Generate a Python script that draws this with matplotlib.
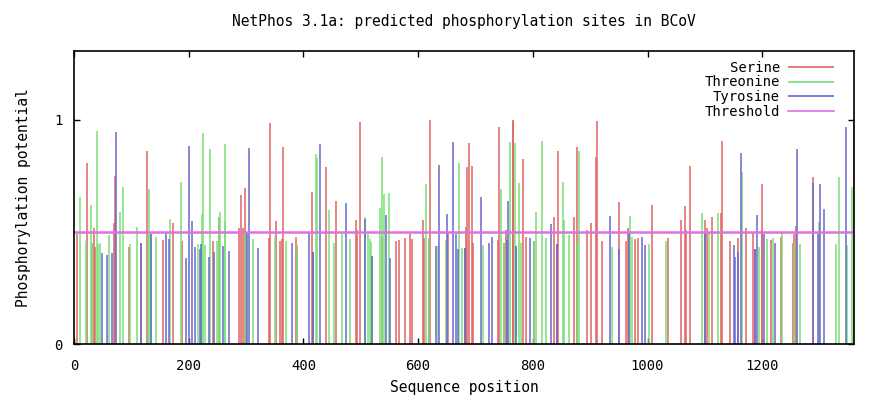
import matplotlib
matplotlib.use("Agg")
from matplotlib import pyplot as plt

# NetPhos impulses (sequence position, score)
ser_pos = [5.5, 23, 31, 35, 36.5, 70, 71.8, 95.6, 117, 127, 129, 156, 172, 189, 242.7, 252.6,
           287, 291, 295, 298.6, 300, 339.8, 341.6, 351.5, 359, 362, 363.7, 387.5, 389, 414.7,
           416, 438.6, 457.3, 491, 494, 499, 537, 562, 566.5, 576.4, 585.7, 590, 609, 610, 619,
           620, 652, 682, 683, 684.7, 689.3, 694.5, 695.7, 740, 741, 750, 752.6, 764.8, 766, 783,
           788, 802, 836.6, 842, 844, 871.3, 876.5, 877.6, 895.2, 902, 909.6, 912, 921, 950,
           962.5, 966.6, 977.7, 984, 1008.5, 1035, 1059, 1066, 1067, 1073.6, 1100, 1104, 1112,
           1127.7, 1129.5, 1143, 1157, 1171, 1184, 1187, 1199, 1200, 1216, 1233.5, 1254, 1255,
           1259, 1288, 1360]
ser_val = [0.49, 0.806, 0.45, 0.516, 0.434, 0.538, 0.75, 0.434, 0.452, 0.861, 0.49, 0.464, 0.538,
           0.459, 0.459, 0.565, 0.52, 0.665, 0.516, 0.695, 0.50, 0.472, 0.985, 0.55, 0.459, 0.467,
           0.88, 0.479, 0.44, 0.677, 0.409, 0.788, 0.64, 0.553, 0.509, 0.992, 0.479, 0.459, 0.464,
           0.472, 0.49, 0.467, 0.553, 0.472, 0.472, 1.0, 0.497, 0.43, 0.523, 0.788, 0.898, 0.794,
           0.452, 0.464, 0.967, 0.452, 0.509, 1.0, 0.997, 0.824, 0.479, 0.459, 0.565, 0.446, 0.863,
           0.565, 0.452, 0.88, 0.509, 0.538, 0.836, 0.997, 0.459, 0.632, 0.459, 0.516, 0.467, 0.472,
           0.62, 0.472, 0.553, 0.616, 0.509, 0.794, 0.553, 0.516, 0.565, 0.583, 0.906, 0.459, 0.472,
           0.52, 0.497, 0.422, 0.714, 0.509, 0.464, 0.479, 0.452, 0.49, 0.526, 0.744, 1.0]

thr_pos = [10.8, 21, 30, 31.7, 39.8, 42, 46, 60.2, 80.5, 85.8, 98, 109.6, 129.5, 131.4, 134, 143,
           167, 187, 215.4, 223, 224.7, 228, 238, 250, 253, 255, 262.5, 263.6, 298, 311.5, 351,
           370, 389, 421.2, 423, 445, 452.6, 467, 481.7, 508, 513, 516.5, 518.5, 520, 532.9,
           537.5, 541, 549, 613, 619, 634, 648, 671, 677, 713.7, 745, 750, 760, 768.6, 770, 776,
           779.6, 802, 805, 815.5, 823, 852.7, 854, 863.2, 876.5, 880.3, 938.7, 969.5, 973.5,
           1003, 1032.4, 1095, 1107, 1123, 1165, 1194.5, 1209, 1218, 1234, 1254.5, 1266, 1298.5,
           1329.4, 1334.6, 1347, 1356]
thr_val = [0.657, 0.459, 0.62, 0.45, 0.952, 0.446, 0.452, 0.486, 0.59, 0.70, 0.446, 0.523, 0.49,
           0.69, 0.49, 0.479, 0.556, 0.724, 0.446, 0.58, 0.943, 0.442, 0.869, 0.459, 0.565, 0.59,
           0.546, 0.893, 0.5, 0.467, 0.479, 0.459, 0.44, 0.85, 0.83, 0.6, 0.452, 0.49, 0.467, 0.565,
           0.49, 0.467, 0.456, 0.393, 0.608, 0.833, 0.669, 0.675, 0.713, 0.472, 0.437, 0.464, 0.806,
           0.43, 0.442, 0.69, 0.452, 0.903, 0.898, 0.437, 0.72, 0.452, 0.459, 0.59, 0.906, 0.472,
           0.724, 0.553, 0.486, 0.452, 0.863, 0.434, 0.571, 0.479, 0.446, 0.459, 0.583, 0.497,
           0.583, 0.769, 0.434, 0.467, 0.472, 0.497, 0.452, 0.446, 0.546, 0.446, 0.744, 0.442, 0.7]

tyr_pos = [49, 57, 66.6, 73.6, 117.7, 134.5, 160.5, 165, 194.5, 199.7, 206, 211, 219.5, 222, 235,
           244.5, 259.6, 269.5, 302, 306, 320, 380.6, 409, 417, 428.7, 475, 507, 520, 544, 551.5,
           631.7, 636.4, 650.9, 660.8, 665.5, 670, 682, 709, 723, 728.2, 755, 757, 770, 795, 832,
           842, 934, 950, 967, 991, 996, 1101, 1150, 1152, 1158, 1163, 1187, 1190, 1203, 1223,
           1261, 1289, 1298, 1300, 1307.8, 1345.6]
tyr_val = [0.405, 0.397, 0.405, 0.948, 0.452, 0.49, 0.5, 0.467, 0.385, 0.885, 0.55, 0.434, 0.422,
           0.445, 0.39, 0.409, 0.439, 0.416, 0.494, 0.873, 0.43, 0.452, 0.5, 0.409, 0.893, 0.628,
           0.56, 0.393, 0.577, 0.385, 0.437, 0.799, 0.579, 0.903, 0.49, 0.422, 0.43, 0.657, 0.452,
           0.479, 0.464, 0.64, 0.437, 0.472, 0.534, 0.446, 0.571, 0.422, 0.497, 0.479, 0.442, 0.5,
           0.442, 0.387, 0.412, 0.851, 0.422, 0.575, 0.49, 0.452, 0.869, 0.72, 0.49, 0.714, 0.602,
           0.967]

threshold = 0.5
seq_len = 1360

mono = "DejaVu Sans Mono"
plt.rcParams["font.family"] = mono

fig = plt.figure(figsize=(8.86, 3.99), dpi=100)
ax = fig.add_axes([0.0835, 0.1378, 0.8804, 0.7344])

ax.vlines(ser_pos, 0, ser_val, colors="#e06464", linewidth=1.1, label="Serine")
ax.vlines(thr_pos, 0, thr_val, colors="#78e078", linewidth=1.1, label="Threonine")
ax.vlines(tyr_pos, 0, tyr_val, colors="#6868cc", linewidth=1.1, label="Tyrosine")
ax.plot([0, seq_len], [threshold, threshold], color="#e070e0", linewidth=1.8, label="Threshold")

ax.set_xlim(0, seq_len)
ax.set_ylim(0, 1.308)
ax.set_xticks(range(0, 1201, 200))
ax.set_yticks([0, 1])
ax.tick_params(direction="in", top=True, right=True, length=4, width=1, labelsize=10)
ax.tick_params(axis="x", pad=11)
ax.tick_params(axis="y", pad=8)
for s in ax.spines.values():
    s.set_linewidth(1.2)

ax.set_title("NetPhos 3.1a: predicted phosphorylation sites in BCoV", fontsize=10.5, pad=18)
ax.set_xlabel("Sequence position", fontsize=10.5, labelpad=5)
ax.set_ylabel("Phosphorylation potential", fontsize=10.5, labelpad=17)

leg = ax.legend(loc="upper right", markerfirst=False, frameon=False, fontsize=10,
                handlelength=3.3, labelspacing=0.05, borderaxespad=0.4, handletextpad=0.6,
                borderpad=0.3, bbox_to_anchor=(0.987, 1.0))
for line in leg.get_lines():
    line.set_linewidth(1.2)
leg._legend_box.align = "right"

fig.savefig("out.png", dpi=100)
